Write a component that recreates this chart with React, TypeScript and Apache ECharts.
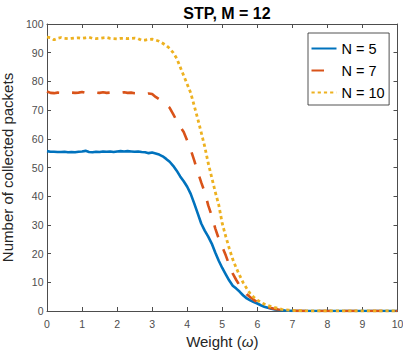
import React, { useEffect, useRef } from "react";
import * as echarts from "echarts";

const weights = [
  0, 0.1, 0.2, 0.3, 0.4, 0.5, 0.6, 0.7, 0.8, 0.9,
  1.0, 1.1, 1.2, 1.3, 1.4, 1.5, 1.6, 1.7, 1.8, 1.9,
  2.0, 2.1, 2.2, 2.3, 2.4, 2.5, 2.6, 2.7, 2.8, 2.9,
  3.0, 3.1, 3.2, 3.3, 3.4, 3.5, 3.6, 3.7, 3.8, 3.9,
  4.0, 4.1, 4.2, 4.3, 4.4, 4.5, 4.6, 4.7, 4.8, 4.9,
  5.0, 5.1, 5.2, 5.3, 5.4, 5.5, 5.6, 5.7, 5.8, 5.9,
  6.0, 6.1, 6.2, 6.3, 6.4, 6.5, 6.6, 6.7, 6.8, 6.9,
  7.0, 7.5, 8.0, 8.5, 9.0, 9.5, 10.0,
];

const packetsN5 = [
  55.7, 55.5, 55.5, 55.4, 55.4, 55.5, 55.3, 55.4, 55.3, 55.5,
  55.6, 55.8, 55.4, 55.3, 55.5, 55.4, 55.6, 55.5, 55.6, 55.4,
  55.6, 55.7, 55.6, 55.7, 55.6, 55.5, 55.6, 55.4, 55.3, 55.0,
  55.2, 54.9, 54.5, 53.9, 53.0, 52.0, 50.6, 48.9, 46.9, 45.2,
  43.3, 40.8, 37.5, 34.0, 30.5, 28.0, 25.9, 23.5, 20.4, 17.5,
  15.0, 12.8, 10.6, 8.8, 7.8, 6.7, 5.4, 4.4, 3.7, 3.1,
  2.6, 2.0, 1.5, 1.1, 0.8, 0.5, 0.35, 0.25, 0.15, 0.1,
  0.05, 0, 0, 0, 0, 0, 0,
];

const packetsN7 = [
  76.5, 76.0, 75.9, 76.1, 76.0, 76.2, 76.3, 76.1, 76.0, 76.1,
  76.3, 76.0, 76.2, 76.0, 76.1, 76.0, 76.2, 76.0, 76.1, 76.0,
  76.1, 76.0, 76.2, 76.0, 76.1, 75.9, 75.8, 75.6, 75.6, 75.8,
  75.6, 74.6, 73.8, 72.8, 71.8, 70.8, 68.6, 66.3, 64.2, 62.4,
  59.4, 56.2, 52.5, 48.5, 44.8, 41.4, 36.8, 33.2, 28.8, 25.2,
  22.4, 19.4, 16.0, 13.0, 10.8, 8.8, 7.2, 5.8, 4.8, 3.9,
  3.1, 2.5, 1.9, 1.4, 1.0, 0.7, 0.5, 0.4, 0.3, 0.2,
  0.1, 0, 0, 0, 0, 0, 0,
];

const packetsN10 = [
  95.4, 95.2, 94.5, 95.0, 95.3, 95.0, 94.9, 95.0, 95.1, 95.2,
  95.0, 95.2, 95.4, 95.0, 94.9, 95.0, 95.2, 95.3, 95.0, 94.9,
  94.8, 95.0, 95.0, 94.9, 95.0, 95.1, 94.9, 94.3, 94.4, 94.6,
  94.7, 94.4, 94.0, 93.3, 92.5, 91.5, 90.0, 88.0, 85.0, 82.0,
  79.0, 76.0, 71.5, 67.0, 62.2, 57.3, 51.5, 46.5, 41.5, 37.0,
  30.5, 26.0, 21.8, 18.0, 15.0, 12.3, 9.8, 7.8, 6.0, 4.8,
  3.8, 3.0, 2.4, 1.9, 1.5, 1.2, 0.9, 0.6, 0.4, 0.3,
  0.2, 0, 0, 0, 0, 0, 0,
];

const seriesNames = ["N = 5", "N = 7", "N = 10"];
const seriesColors = ["#0072BD", "#D95319", "#EDB120"];

const FONT = "'Liberation Sans', Arial, Helvetica, sans-serif";
const AXIS_COLOR = "#4d4d4d";
const LABEL_COLOR = "#262626";

export default function App() {
  const ref = useRef<HTMLDivElement>(null);

  useEffect(() => {
    if (!ref.current) return;
    const chart = echarts.init(ref.current, undefined, { renderer: "svg" });

    const toPairs = (vals: number[]) => weights.map((w, i) => [w, vals[i]]);

    const baseX = {
      type: "value" as const,
      min: 0,
      max: 10,
      interval: 1,
      splitLine: { show: false },
      axisLine: { show: true, onZero: false, lineStyle: { color: AXIS_COLOR, width: 1 } },
      axisTick: { show: true, inside: true, length: 4, lineStyle: { color: AXIS_COLOR } },
    };
    const baseY = {
      type: "value" as const,
      min: 0,
      max: 100,
      interval: 10,
      splitLine: { show: false },
      axisLine: { show: true, onZero: false, lineStyle: { color: AXIS_COLOR, width: 1 } },
      axisTick: { show: true, inside: true, length: 4, lineStyle: { color: AXIS_COLOR } },
    };

    chart.setOption({
      animation: false,
      backgroundColor: "#ffffff",
      textStyle: { fontFamily: FONT },
      title: {
        text: "STP, M = 12",
        left: 222,
        textAlign: "center",
        top: 0,
        textStyle: { fontFamily: FONT, fontSize: 16, fontWeight: "bold", color: "#000" },
      },
      grid: {
        left: 47,
        right: 5.5,
        top: 24,
        bottom: 45,
        containLabel: false,
        outerBoundsMode: "none",
      },
      legend: {
        data: seriesNames,
        orient: "vertical",
        left: 308,
        top: 33,
        padding: [8, 4.5, 5, 2.5],
        itemGap: 7,
        itemWidth: 25,
        itemHeight: 14,
        borderColor: "#262626",
        borderWidth: 0.8,
        borderRadius: 0,
        backgroundColor: "#ffffff",
        itemStyle: { opacity: 0 },
        textStyle: { fontFamily: FONT, fontSize: 14.5, lineHeight: 14, color: "#000" },
      },
      xAxis: [
        {
          ...baseX,
          position: "bottom",
          name: "Weight ({i|ω})",
          nameLocation: "middle",
          nameGap: 22,
          nameTextStyle: {
            fontFamily: FONT,
            fontSize: 15,
            color: LABEL_COLOR,
            rich: { i: { fontFamily: FONT, fontSize: 15, fontStyle: "italic", color: LABEL_COLOR } },
          },
          axisLabel: { fontFamily: FONT, fontSize: 10.5, color: AXIS_COLOR, margin: 7 },
        },
        {
          ...baseX,
          position: "top",
          axisLabel: { show: false },
        },
      ],
      yAxis: [
        {
          ...baseY,
          position: "left",
          name: "Number of collected packets",
          nameLocation: "middle",
          nameGap: 24,
          nameTextStyle: { fontFamily: FONT, fontSize: 15, color: LABEL_COLOR },
          axisLabel: { fontFamily: FONT, fontSize: 10.5, color: AXIS_COLOR, margin: 3.5 },
        },
        {
          ...baseY,
          position: "right",
          axisLabel: { show: false },
        },
      ],
      series: [
        {
          name: seriesNames[0],
          type: "line",
          data: toPairs(packetsN5),
          symbol: "none",
          color: seriesColors[0],
          lineStyle: { color: seriesColors[0], width: 2.6 },
          z: 2,
        },
        {
          name: seriesNames[1],
          type: "line",
          data: toPairs(packetsN7),
          symbol: "none",
          color: seriesColors[1],
          lineStyle: { color: seriesColors[1], width: 2.6, type: [12.5, 13], cap: "butt" },
          z: 3,
        },
        {
          name: seriesNames[2],
          type: "line",
          data: toPairs(packetsN10),
          symbol: "none",
          color: seriesColors[2],
          lineStyle: { color: seriesColors[2], width: 2.8, type: [3.2, 3], cap: "butt" },
          z: 4,
        },
      ],
    });

    return () => chart.dispose();
  }, []);

  return (
    <div
      ref={ref}
      style={{ position: "fixed", left: 0, top: 0, width: 403, height: 356 }}
    />
  );
}
